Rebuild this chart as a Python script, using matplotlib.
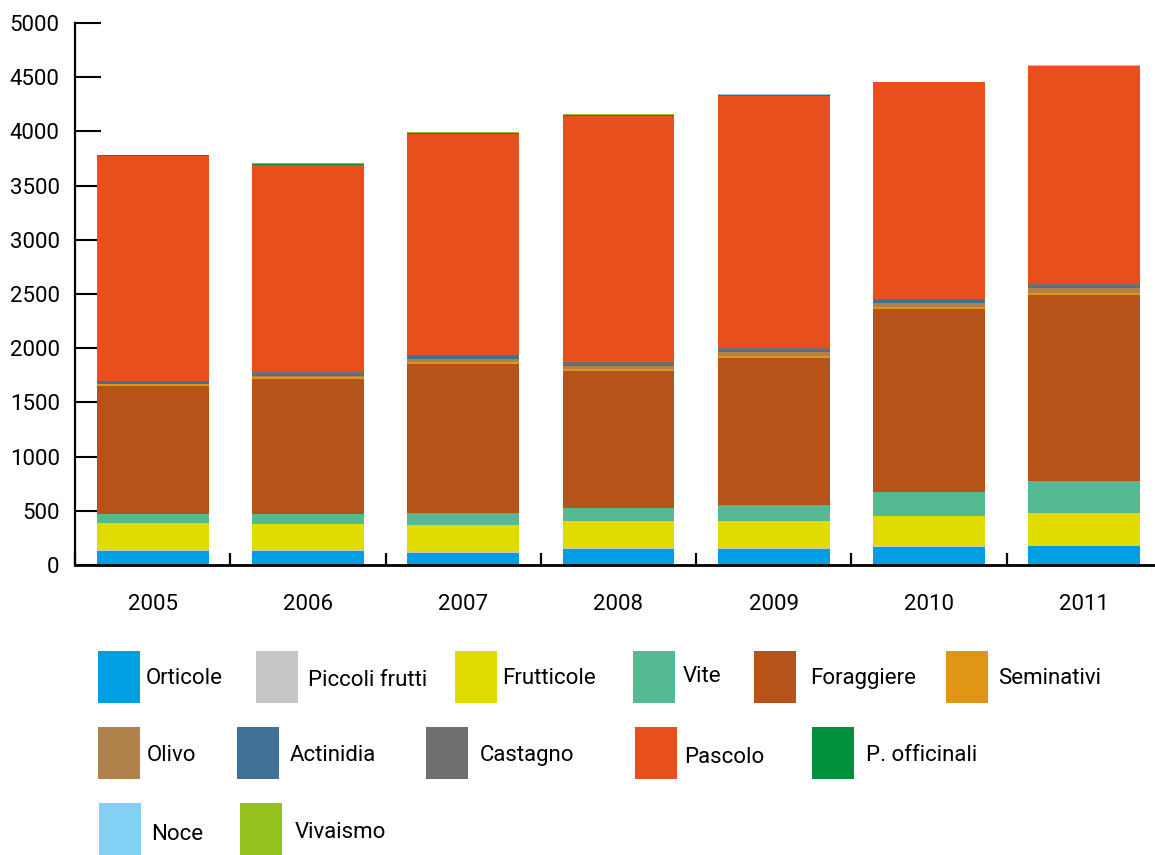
import numpy as np
import matplotlib.pyplot as plt
from matplotlib.patches import Rectangle

anni = ['2005', '2006', '2007', '2008', '2009', '2010', '2011']

# superfici per coltura (stack dal basso verso l'alto)
orticole = [129, 129, 108, 145, 145, 163, 172]
piccoli_frutti = [6, 6, 18, 12, 12, 9, 2]
frutticole = [249, 243, 240, 246, 246, 277, 303]
vite = [83, 89, 111, 120, 147, 221, 295]
foraggiere = [1187, 1249, 1377, 1267, 1360, 1692, 1719]
seminativi = [15, 18, 18, 18, 18, 18, 18]
olivo = [0, 12, 28, 28, 37, 37, 46]
actinidia = [25, 5, 28, 5, 5, 28, 5]
castagno = [5, 28, 5, 28, 28, 5, 28]
pascolo = [2070, 1908, 2043, 2273, 2332, 2006, 2015]
officinali = [12, 15, 5, 12, 6, 0, 0]
noce = [0, 0, 8, 0, 10, 0, 9]
vivaismo = [0, 6, 8, 10, 0, 0, 0]

nomi = ['Orticole', 'Piccoli frutti', 'Frutticole', 'Vite', 'Foraggiere',
        'Seminativi', 'Olivo', 'Actinidia', 'Castagno', 'Pascolo',
        'P. officinali', 'Noce', 'Vivaismo']
serie = [orticole, piccoli_frutti, frutticole, vite, foraggiere, seminativi,
         olivo, actinidia, castagno, pascolo, officinali, noce, vivaismo]
colori = ['#009FE3', '#C6C6C6', '#E0DC00', '#55B991', '#B75218', '#E09515',
          '#B0814B', '#3F7196', '#6F6F6F', '#E94F1D', '#00903C', '#83D0F5',
          '#95C11F']

plt.rcParams['font.family'] = ['Roboto', 'DejaVu Sans']

fig = plt.figure(figsize=(11.55, 8.55), dpi=100)
ax = fig.add_axes([75/1155, 290/855, 1087/1155, 542/855])

x = np.arange(len(anni))
base = np.zeros(len(anni))
for vals, col in zip(serie, colori):
    ax.bar(x, vals, bottom=base, width=0.72, color=col, linewidth=0, zorder=2)
    base += np.array(vals)

ax.set_xlim(-0.5, 6.5)
ax.set_ylim(0, 5000)
ax.set_yticks(np.arange(0, 5001, 500))
ax.set_xticks(x)
ax.set_xticklabels(anni)
ax.set_xticks(np.arange(-0.5, 6.6, 1), minor=True)

for s in ['top', 'right']:
    ax.spines[s].set_visible(False)
ax.spines['left'].set_linewidth(1.6)
ax.spines['bottom'].set_linewidth(2)

ax.tick_params(axis='y', direction='in', length=19, width=1.5, labelsize=16, pad=11)
ax.tick_params(axis='x', which='major', length=0, labelsize=16, pad=21)
ax.tick_params(axis='x', which='minor', direction='in', length=9, width=1.6)
ax.set_axisbelow(True)

# legenda a tre righe
leg_box = [(98, 651), (256, 651), (455, 651), (633, 651), (754, 651), (946, 651),
           (98, 727), (237, 727), (426, 727), (635, 727), (812, 727),
           (99, 803), (240, 803)]
leg_txt = [(146, 678), (308, 680), (502, 678), (683, 677), (810, 678), (998, 678),
           (147, 755), (290, 755), (480, 755), (684, 757), (866, 755),
           (151, 834), (295, 832)]
W, H = 1155, 855
for nome, col, (bx, by), (tx, ty) in zip(nomi, colori, leg_box, leg_txt):
    fig.add_artist(Rectangle((bx / W, 1 - (by + 52) / H), 42 / W, 52 / H,
                             transform=fig.transFigure, color=col, linewidth=0))
    fig.text(tx / W, 1 - ty / H, nome, fontsize=16, va='center', ha='left')

fig.savefig('out.png', dpi=100)
